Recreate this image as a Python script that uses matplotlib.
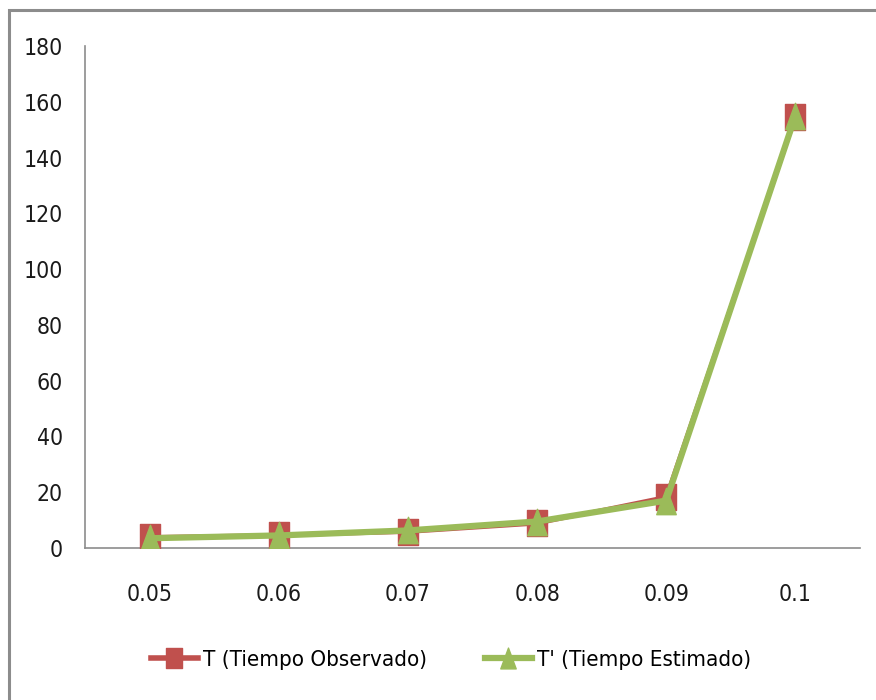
import matplotlib
matplotlib.use("Agg")
import matplotlib.pyplot as plt
from matplotlib.patches import Rectangle
from matplotlib.lines import Line2D
from matplotlib.path import Path

categories = ["0.05", "0.06", "0.07", "0.08", "0.09", "0.1"]
t_observado = [3.9, 4.6, 5.8, 8.8, 18.3, 154.5]
t_estimado = [3.5, 4.5, 6.3, 9.5, 17.0, 155.0]
y_ticks = [0, 20, 40, 60, 80, 100, 120, 140, 160, 180]

plt.rcParams['font.family'] = ['DejaVu Sans']
plt.rcParams['font.stretch'] = 'condensed'

# tall (slightly narrow) marker shapes
sq = Path([(-0.74, -1), (0.74, -1), (0.74, 1), (-0.74, 1), (-0.74, -1)],
          [Path.MOVETO, Path.LINETO, Path.LINETO, Path.LINETO, Path.CLOSEPOLY])
tri = Path([(0, 1), (-0.74, -1), (0.74, -1), (0, 1)],
           [Path.MOVETO, Path.LINETO, Path.LINETO, Path.CLOSEPOLY])

fig = plt.figure(figsize=(8.76, 7.0), dpi=100)
fig.patch.set_facecolor("white")
ax = fig.add_axes([85/876, 1-548/700, (860-85)/876, (548-46)/700])

x = list(range(len(categories)))
red = "#C0504D"
green = "#9BBB59"
ax.plot(x, t_observado, color=red, lw=3, marker=sq, ms=19, mec=red, mfc=red,
        label="T (Tiempo Observado)", zorder=3)
ax.plot(x, t_estimado, color=green, lw=4.5, marker=tri, ms=19, mec=green, mfc=green,
        label="T' (Tiempo Estimado)", zorder=4)

ax.set_xlim(-0.5, len(categories) - 0.5)
ax.set_ylim(0, 180)
ax.set_yticks(y_ticks)
ax.set_xticks(x)
ax.set_xticklabels(categories)
for s in ["top", "right"]:
    ax.spines[s].set_visible(False)
for s in ["left", "bottom"]:
    ax.spines[s].set_color("#8C8C8C")
    ax.spines[s].set_linewidth(1.2)
ax.tick_params(axis="both", length=0, labelsize=16.5, colors="#1a1a1a")
ax.tick_params(axis="y", pad=16)
ax.tick_params(axis="x", pad=25)

handles = [Line2D([], [], color=red, lw=4, marker=sq, ms=15, mfc=red, mec=red),
           Line2D([], [], color=green, lw=4.5, marker=tri, ms=15, mfc=green, mec=green)]
fig.legend(handles, ["T (Tiempo Observado)", "T' (Tiempo Estimado)"], loc="center",
           bbox_to_anchor=(0.515, 1-660/700), ncol=2, frameon=False, fontsize=16,
           handlelength=2.1, handletextpad=0.25, columnspacing=2.6)

fig.add_artist(Rectangle((9/876, -0.1), 1.2, 1.0 + 0.1 - 10/700, transform=fig.transFigure,
                         fill=False, edgecolor="#8C8C8C", lw=2.2))

fig.savefig("out.png", dpi=100, facecolor="white")
